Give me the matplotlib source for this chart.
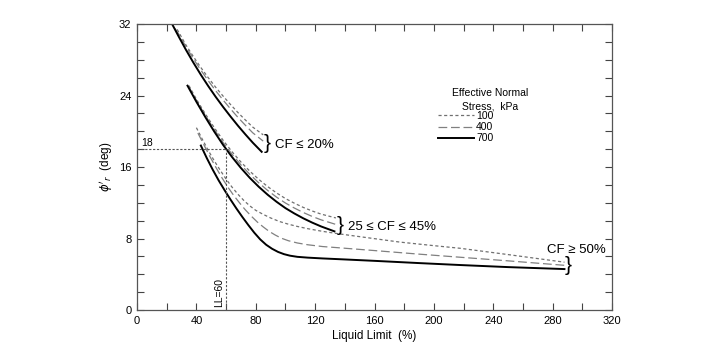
import matplotlib
matplotlib.use("Agg")
import matplotlib.pyplot as plt
from matplotlib.lines import Line2D

plt.rcParams['font.family'] = ['Liberation Sans', 'DejaVu Sans']
plt.rcParams['mathtext.fontset'] = 'dejavusans'

# ---- data (LL %, phi'_r deg) ----
# CF <= 20%
top_700_x = [23.6, 28, 33, 38, 43, 48, 53, 58, 63, 68, 73, 78, 84]
top_700_y = [32.0, 30.62, 29.1, 27.67, 26.32, 25.05, 23.85, 22.72, 21.65, 20.62, 19.65, 18.72, 17.7]
top_400_x = [25.5, 28, 33, 38, 43, 48, 53, 58, 63, 68, 73, 78, 85]
top_400_y = [31.5, 30.9, 29.45, 28.1, 26.84, 25.65, 24.53, 23.49, 22.5, 21.55, 20.67, 19.82, 18.9]
top_100_x = [27, 33, 38, 43, 48, 53, 58, 63, 68, 73, 78, 85]
top_100_y = [31.4, 29.64, 28.34, 27.13, 25.99, 24.92, 23.93, 22.99, 22.09, 21.26, 20.46, 19.6]

# 25 <= CF <= 45%
mid_700_x = [34, 40, 46, 52, 58, 64, 70, 76, 82, 88, 94, 100, 106, 112, 118, 124, 133]
mid_700_y = [25.1, 23.3, 21.59, 19.97, 18.47, 17.12, 15.89, 14.78, 13.79, 12.9, 12.11, 11.4,
             10.8, 10.26, 9.78, 9.35, 8.8]
mid_400_x = [34.5, 40, 46, 52, 58, 64, 70, 76, 82, 88, 94, 100, 106, 112, 118, 124, 133.5]
mid_400_y = [25.1, 23.44, 21.77, 20.2, 18.74, 17.43, 16.24, 15.18, 14.23, 13.38, 12.63, 11.97,
             11.41, 10.91, 10.47, 10.09, 9.6]
mid_100_x = [35, 40, 46, 52, 58, 64, 70, 76, 82, 88, 94, 100, 106, 112, 118, 124, 134]
mid_100_y = [25.1, 23.58, 21.95, 20.41, 18.99, 17.71, 16.56, 15.53, 14.62, 13.81, 13.1, 12.47,
             11.95, 11.48, 11.08, 10.73, 10.3]

# CF >= 50%
bot_700_x = [43, 47, 51, 55, 59, 63, 67, 71, 75, 79, 83, 87, 91, 95, 99, 103, 108, 115, 125,
             137, 160, 190, 218, 250, 288]
bot_700_y = [18.4, 17.0, 15.7, 14.5, 13.4, 12.35, 11.35, 10.4, 9.5, 8.65, 7.9, 7.3, 6.85, 6.5,
             6.25, 6.08, 5.95, 5.86, 5.77, 5.68, 5.5, 5.25, 5.03, 4.8, 4.58]
bot_400_x = [41, 45, 49, 53, 57, 61, 65, 69, 73, 77, 81, 85, 89, 93, 97, 102, 108, 115, 125,
             137, 160, 190, 218, 250, 288]
bot_400_y = [19.8, 18.5, 17.2, 16.0, 14.85, 13.8, 12.85, 12.0, 11.2, 10.5, 9.85, 9.3, 8.8, 8.4,
             8.05, 7.75, 7.5, 7.3, 7.1, 6.95, 6.65, 6.25, 5.9, 5.5, 5.0]
bot_100_x = [40, 44, 48, 52, 56, 60, 64, 68, 72, 76, 80, 85, 90, 96, 102, 108, 115, 125, 137,
             157, 177, 200, 218, 250, 288]
bot_100_y = [20.4, 19.1, 17.85, 16.7, 15.65, 14.65, 13.75, 12.95, 12.25, 11.65, 11.15, 10.7,
             10.3, 9.9, 9.6, 9.35, 9.1, 8.8, 8.5, 8.05, 7.6, 7.2, 6.9, 6.2, 5.35]

stress_labels = ['100', '400', '700']
ref_ll = 60
ref_phi = 18

fig = plt.figure(figsize=(7.22, 3.51), dpi=100)
ax = fig.add_axes([0.1898, 0.1168, 0.6578, 0.8148])

styles = {
    '100': dict(color='#707070', lw=0.9, ls=(0, (2.5, 2))),
    '400': dict(color='#808080', lw=0.9, ls=(0, (7, 3))),
    '700': dict(color='black', lw=1.4, ls='-'),
}

groups = [
    (top_100_x, top_100_y, top_400_x, top_400_y, top_700_x, top_700_y),
    (mid_100_x, mid_100_y, mid_400_x, mid_400_y, mid_700_x, mid_700_y),
    (bot_100_x, bot_100_y, bot_400_x, bot_400_y, bot_700_x, bot_700_y),
]
for g in groups:
    ax.plot(g[0], g[1], **styles['100'])
    ax.plot(g[2], g[3], **styles['400'])
    ax.plot(g[4], g[5], **styles['700'])

# reference lines
ax.plot([0, ref_ll], [ref_phi, ref_phi], color='#555555', lw=0.8, ls=(0, (2, 1.5)))
ax.plot([ref_ll, ref_ll], [0, ref_phi], color='#555555', lw=0.8, ls=(0, (2, 1.5)))
ax.text(3, ref_phi + 0.1, '18', fontsize=7.5, ha='left', va='bottom')
ax.text(55.5, 2.0, 'LL=60', fontsize=7.5, rotation=90, ha='center', va='center')

# brackets + labels
ax.text(85.5, 18.6, '}', fontsize=15, ha='left', va='center', fontweight='light')
ax.text(93, 18.5, 'CF ≤ 20%', fontsize=9.5, ha='left', va='center')
ax.text(134.5, 9.5, '}', fontsize=15, ha='left', va='center', fontweight='light')
ax.text(142, 9.3, '25 ≤ CF ≤ 45%', fontsize=9.5, ha='left', va='center')
ax.text(288, 4.95, '}', fontsize=15, ha='left', va='center', fontweight='light')
ax.text(296, 6.7, 'CF ≥ 50%', fontsize=9.5, ha='center', va='center')

ax.set_xlim(0, 320)
ax.set_ylim(0, 32)
ax.set_xticks(range(0, 321, 40))
ax.set_xticks(range(0, 321, 20), minor=True)
ax.set_yticks(range(0, 33, 8))
ax.set_yticks(range(0, 33, 2), minor=True)
ax.tick_params(which='both', direction='in', top=True, right=True, length=5,
               width=0.8, color='#444444', labelsize=8, pad=4)
for s in ax.spines.values():
    s.set_color('#555555')
    s.set_linewidth(0.9)

ax.set_xlabel('Liquid Limit  (%)', fontsize=8.5, labelpad=3)
ax.set_ylabel(r"$\phi'_r$  (deg)", fontsize=8.5, labelpad=3)

# legend: title as text, entries as a legend
ax.text(0.743, 0.734, 'Effective Normal\nStress,  kPa', transform=ax.transAxes,
        fontsize=7.5, ha='center', va='center', multialignment='center', linespacing=1.4)
handles = [Line2D([], [], **styles[k]) for k in stress_labels]
leg = ax.legend(handles, stress_labels, loc='upper left', bbox_to_anchor=(0.634, 0.696),
                frameon=False, fontsize=7.5, handlelength=3.4, handletextpad=0.25,
                labelspacing=0.12, borderpad=0.0, borderaxespad=0.0)

fig.savefig('out.png', dpi=100)
